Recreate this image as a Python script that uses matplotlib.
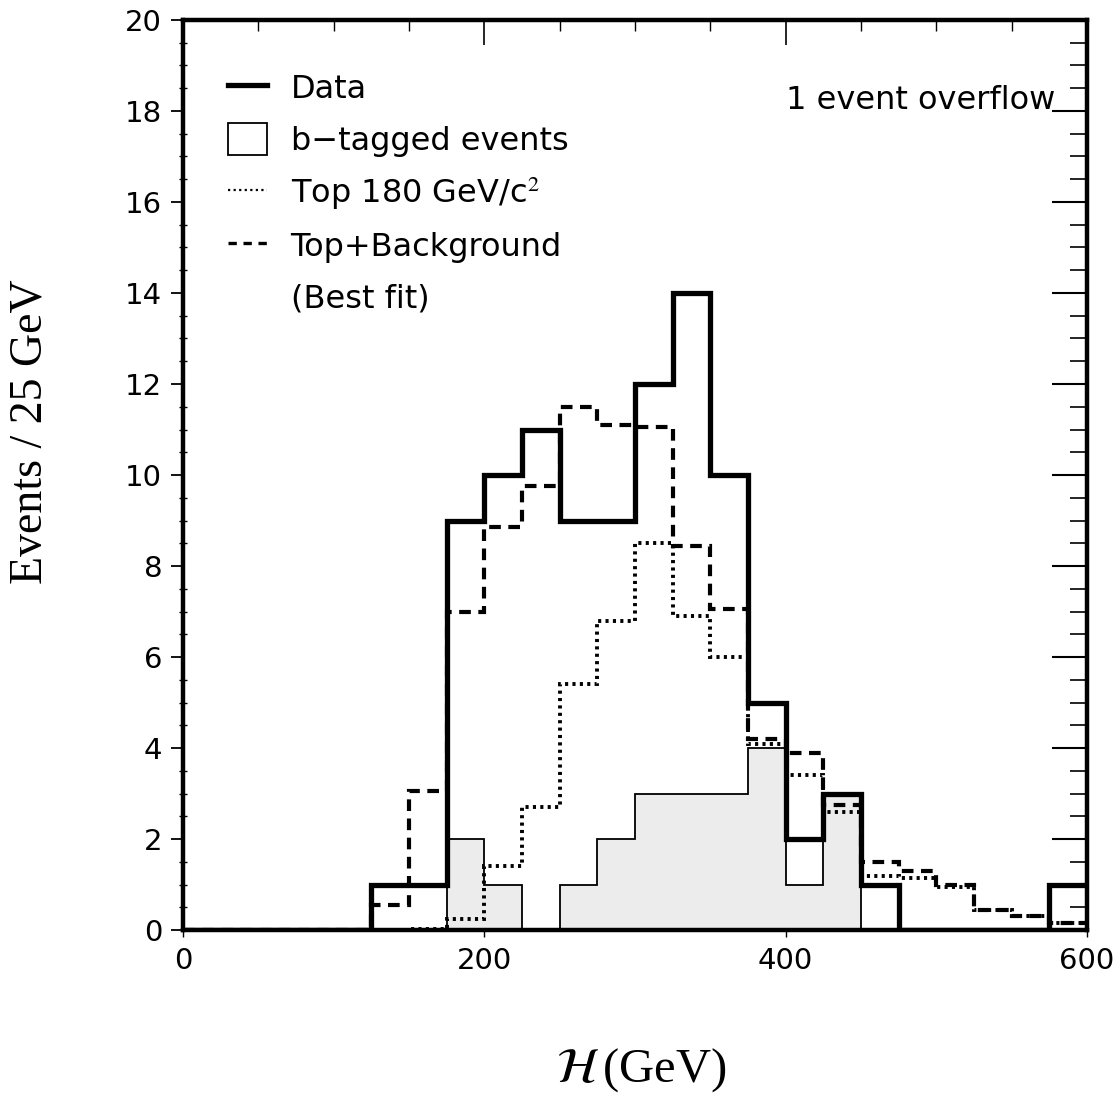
import numpy as np
import matplotlib
matplotlib.use('Agg')
import matplotlib.pyplot as plt
from matplotlib.lines import Line2D
from matplotlib.patches import Patch

plt.rcParams['font.family'] = ['DejaVu Sans']
plt.rcParams['mathtext.fontset'] = 'stix'

# 25 GeV bins from 0 to 600
edges = np.arange(0, 625, 25)

data = [0, 0, 0, 0, 0, 1, 1, 9, 10, 11, 9, 9, 12, 14, 10, 5, 2, 3, 1, 0, 0, 0, 0, 1]
btag = [0, 0, 0, 0, 0, 0, 0, 2, 1, 0, 1, 2, 3, 3, 3, 4, 1, 3, 0, 0, 0, 0, 0, 0]
top180 = [0, 0, 0, 0, 0, 0, 0.03, 0.25, 1.4, 2.7, 5.4, 6.8, 8.5, 6.9, 6.0, 4.1,
          3.4, 2.6, 1.2, 1.15, 0.95, 0.45, 0.3, 0.15]
top_bkg = [0, 0, 0, 0, 0, 0.55, 3.05, 7.0, 8.85, 9.75, 11.5, 11.1, 11.05, 8.45,
           7.05, 4.2, 3.9, 2.75, 1.5, 1.3, 1.0, 0.45, 0.3, 0.15]

fig = plt.figure(figsize=(11.16, 11.06), dpi=100)
ax = fig.add_axes([0.164, 0.159, 0.810, 0.823])

# b-tagged: light shaded with thin outline
ax.stairs(btag, edges, fill=True, color='#ececec', baseline=0)
ax.stairs(btag, edges, color='black', lw=1.3, baseline=0)
ax.stairs(top180, edges, color='black', lw=2.8, ls=(0, (0.8, 1.1)), baseline=None)
ax.stairs(top_bkg, edges, color='black', lw=3.0, ls=(0, (2.8, 1.8)), baseline=None)
ax.stairs(data, edges, color='black', lw=3.8, baseline=None)

ax.set_xlim(0, 600)
ax.set_ylim(0, 20)
for s in ax.spines.values():
    s.set_linewidth(3.2)

ax.set_xticks([0, 200, 400, 600])
ax.set_xticks(np.arange(0, 601, 50), minor=True)
ax.set_yticks(np.arange(0, 21, 2))
ax.set_yticks(np.arange(0, 20.5, 0.5), minor=True)
ax.tick_params(axis='y', which='major', direction='out', length=9, width=1.3,
               labelsize=21, pad=6)
ax.tick_params(axis='y', which='minor', direction='inout', length=6, width=1.0)
ax.tick_params(axis='x', which='major', direction='out', length=5, width=1.0,
               labelsize=21, pad=7)
ax.tick_params(axis='x', which='minor', length=0)

top = ax.secondary_xaxis('top')
top.set_xticks([200, 400])
top.set_xticks(np.arange(50, 600, 50), minor=True)
top.tick_params(which='major', direction='in', length=18, width=1.2, labeltop=False)
top.tick_params(which='minor', direction='in', length=8, width=1.0)
top.spines['top'].set_visible(False)

right = ax.secondary_yaxis('right')
right.set_yticks(np.arange(0, 21, 2))
right.set_yticks(np.arange(0, 20.5, 0.5), minor=True)
right.tick_params(which='major', direction='in', length=25, width=1.5, labelright=False)
right.tick_params(which='minor', direction='in', length=12, width=1.2)
right.spines['right'].set_visible(False)

ax.set_ylabel('Events / 25 GeV', family='Liberation Serif', fontsize=33)
ax.yaxis.set_label_coords(-0.146, 0.548)
ax.set_xlabel(r'$\mathcal{H}\,$(GeV)', family='Liberation Serif', fontsize=35,
              va='top')
ax.xaxis.set_label_coords(0.507, -0.128)

ax.text(0.965, 0.912, '1 event overflow', transform=ax.transAxes, ha='right',
        va='center', fontsize=23)

handles = [
    Line2D([], [], color='black', lw=3.8),
    Patch(facecolor='white', edgecolor='black', lw=1.3),
    Line2D([], [], color='black', lw=1.6, ls=(0, (1, 1.5))),
    Line2D([], [], color='black', lw=2.4, ls=(0, (2.5, 2))),
    Line2D([], [], ls='none'),
]
labels = ['Data', 'b\u2212tagged events', 'Top 180 GeV/c$^2$',
          'Top+Background', '(Best fit)']
ax.legend(handles, labels, loc='upper left', bbox_to_anchor=(0.05, 0.943),
          frameon=False, fontsize=23, handlelength=1.2, handleheight=1.15,
          handletextpad=0.75, labelspacing=0.55, borderpad=0, borderaxespad=0)

fig.savefig('out.png', dpi=100)
